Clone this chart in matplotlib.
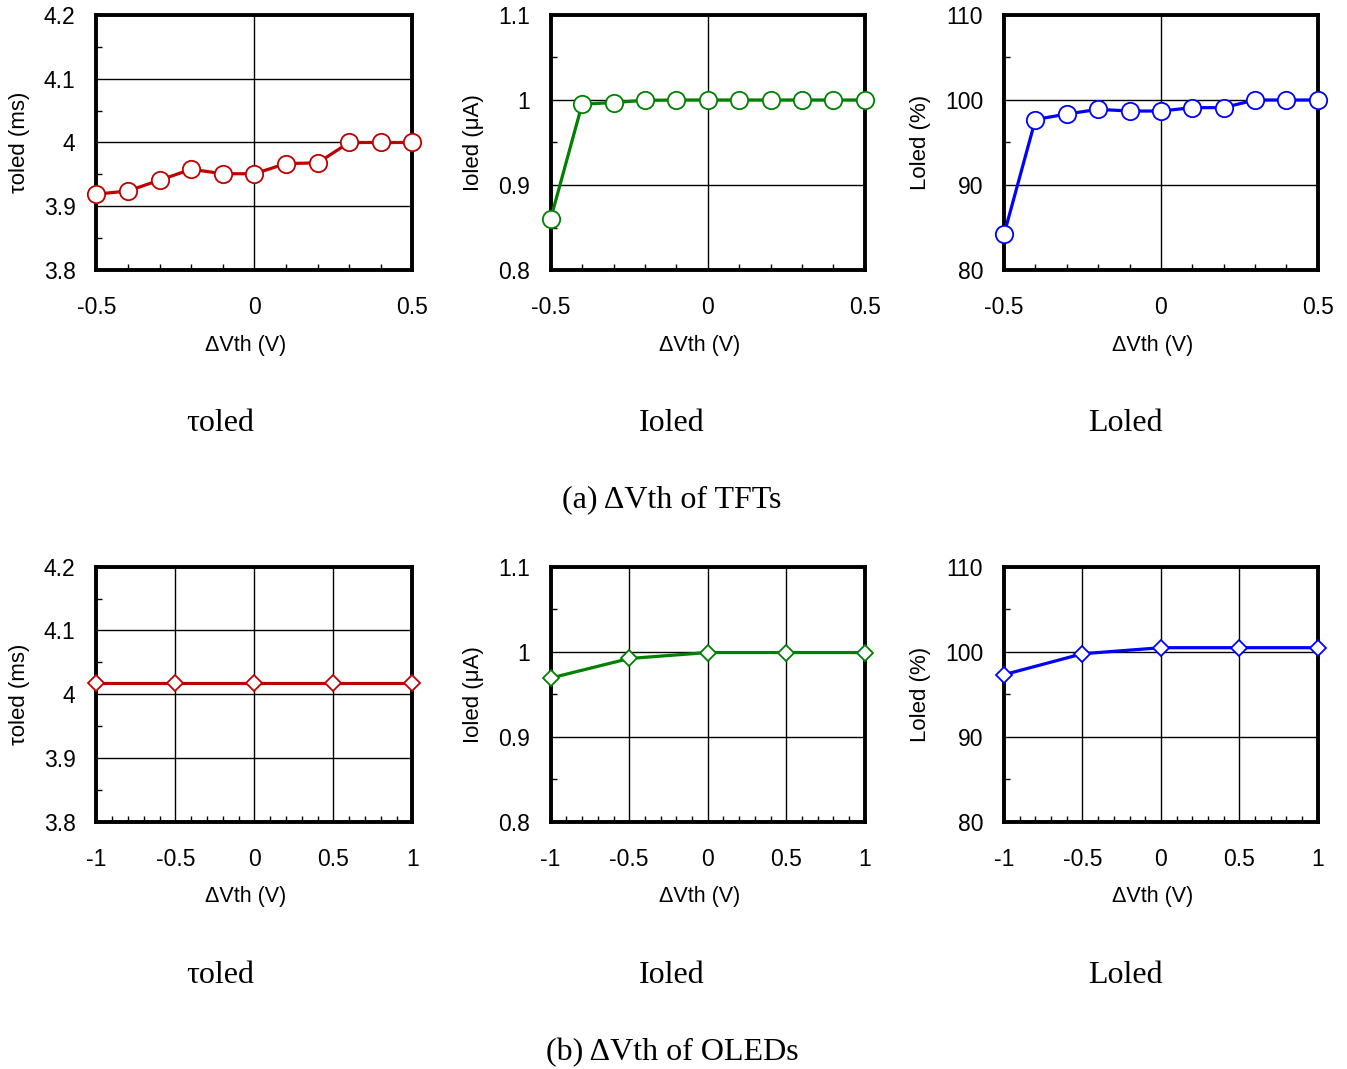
import matplotlib
matplotlib.use('Agg')
import matplotlib.pyplot as plt
from matplotlib.ticker import MultipleLocator, FuncFormatter

plt.rcParams['font.family'] = ['Liberation Sans', 'DejaVu Sans']

# (a) dVth of TFTs
dv_tft = [-0.5, -0.4, -0.3, -0.2, -0.1, 0.0, 0.1, 0.2, 0.3, 0.4, 0.5]
tau_tft = [3.919, 3.924, 3.941, 3.958, 3.951, 3.951, 3.967, 3.968, 4.0, 4.0, 4.0]
ioled_tft = [0.86, 0.995, 0.997, 0.9996, 1.0, 1.0, 1.0, 1.0, 1.0, 1.0, 1.0]
loled_tft = [84.2, 97.7, 98.35, 98.9, 98.7, 98.7, 99.1, 99.1, 100.0, 100.0, 100.0]

# (b) dVth of OLEDs
dv_oled = [-1.0, -0.5, 0.0, 0.5, 1.0]
tau_oled = [4.017, 4.017, 4.017, 4.017, 4.017]
ioled_oled = [0.969, 0.992, 0.999, 0.999, 0.999]
loled_oled = [97.3, 99.76, 100.47, 100.47, 100.47]

ylabels = ['τoled (ms)', 'Ioled (μA)', 'Loled (%)']
captions = ['τoled', 'Ioled', 'Loled']
colors = ['#c00000', '#008000', '#0000ff']
ylims = [(3.8, 4.2, 0.1), (0.8, 1.1, 0.1), (80, 110, 10)]

fig = plt.figure(figsize=(13.47, 10.69), dpi=100)

lefts = [0.0716, 0.4088, 0.7454]
widths = [0.2346, 0.2333, 0.2329]
bottoms = [0.7474, 0.2313]
height = 0.2386

fmt = FuncFormatter(lambda v, p: '%g' % round(v, 6))


def setup(ax, xlim, xmajor, ylim, ylabel, row):
    ymin, ymax, ystep = ylim
    ax.set_xlim(*xlim)
    ax.set_ylim(ymin, ymax)
    ax.xaxis.set_major_locator(MultipleLocator(xmajor))
    ax.xaxis.set_minor_locator(MultipleLocator(0.1))
    ax.yaxis.set_major_locator(MultipleLocator(ystep))
    ax.yaxis.set_minor_locator(MultipleLocator(ystep / 2))
    ax.xaxis.set_major_formatter(fmt)
    ax.yaxis.set_major_formatter(fmt)
    ax.tick_params(which='major', length=0, labelsize=16.5, pad=15)
    ax.tick_params(axis='x', which='major', pad=19)
    ax.tick_params(which='minor', direction='in', length=4, width=1)
    for s in ax.spines.values():
        s.set_linewidth(2.8)
    ax.grid(True, which='major', color='black', lw=1.0)
    if row == 0:
        # only the zero line is a vertical grid line in the top row
        ax.xaxis.grid(False)
        ax.axvline(0, color='black', lw=1.0, zorder=0.5)
    ax.set_axisbelow(True)
    ax.set_xlabel('ΔVth (V)', fontsize=15.5)
    ax.xaxis.set_label_coords(0.473, -0.253)
    ax.set_ylabel(ylabel, fontsize=16, labelpad=10)


rows = [
    (dv_tft, [tau_tft, ioled_tft, loled_tft], 'o', 12.5, (-0.5, 0.5), 0.5),
    (dv_oled, [tau_oled, ioled_oled, loled_oled], 'D', 8.5, (-1, 1), 0.5),
]

for r, (xs, series, mk, ms, xlim, xmajor) in enumerate(rows):
    for c in range(3):
        ax = fig.add_axes([lefts[c], bottoms[r], widths[c], height])
        setup(ax, xlim, xmajor, ylims[c], ylabels[c], r)
        ax.plot(xs, series[c], color=colors[c], lw=2.3, marker=mk, ms=ms,
                mfc='white', mec=colors[c], mew=1.3, clip_on=False, zorder=5)

cap_x = [0.1633, 0.4989, 0.8352]
for c in range(3):
    fig.text(cap_x[c], 0.6034, captions[c], family='Liberation Serif',
             fontsize=23, ha='center', va='center')
    fig.text(cap_x[c], 0.0870, captions[c], family='Liberation Serif',
             fontsize=23, ha='center', va='center')
fig.text(0.4989, 0.5322, '(a) ΔVth of TFTs', family='Liberation Serif',
         fontsize=23, ha='center', va='center')
fig.text(0.4989, 0.0150, '(b) ΔVth of OLEDs', family='Liberation Serif',
         fontsize=23, ha='center', va='center')

fig.savefig('out.png', dpi=100)
